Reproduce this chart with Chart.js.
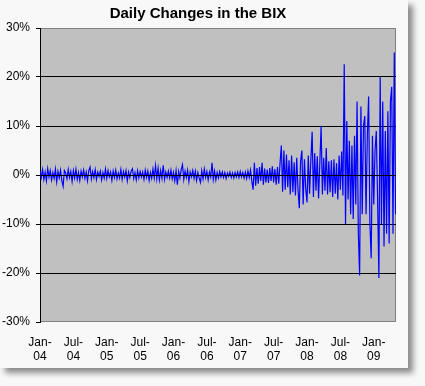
<!DOCTYPE html>
<html>
<head>
<meta charset="utf-8">
<script src="https://cdn.jsdelivr.net/npm/chart.js@4.4.1/dist/chart.umd.min.js"></script>
<style>
  body { margin: 0; background: #f8f8f8; }
  #box { position: absolute; left: 0; top: 0; width: 408px; height: 368px; background: #f8f8f8;
         box-shadow: 5px 5px 6px rgba(0,0,0,0.45); }
</style>
</head>
<body>
<div id="box"><canvas id="myChart"></canvas></div>
<script>
// weekly daily-change samples (%), Jan 2004 .. May 2009
const changes = [
  0.8,-0.5,1.1,-0.9,0.6,-1.2,1.3,-0.4,0.9,-1.0,0.5,-0.7,1.2,-1.4,0.7,-0.6,1.0,-1.1,-2.3,0.9,
  0.4,-0.8,1.1,-0.5,0.7,-1.3,0.9,-0.6,1.2,-0.9,0.5,-1.1,0.8,-0.4,1.0,-0.7,0.6,-1.2,0.9,1.6,
  -0.8,0.7,-0.5,1.1,-0.9,0.6,-0.3,0.8,-1.0,0.5,-0.6,1.2,-0.7,0.9,-0.4,0.6,-1.1,0.8,-0.5,1.0,
  -0.8,0.4,-0.6,1.1,-0.9,0.7,-0.4,0.9,-1.2,0.6,-0.5,0.8,1.3,-0.7,0.5,-1.0,0.9,-0.6,0.7,-0.4,
  0.6,-0.9,1.0,-0.5,0.8,-1.1,0.5,-0.7,1.2,-0.6,1.9,-0.8,1.4,-1.0,0.9,-0.7,2.0,-0.9,0.6,-0.5,
  0.8,-0.6,1.0,-0.8,0.5,-1.2,0.9,-2.0,0.7,-0.6,1.1,2.1,-0.9,0.8,-0.5,1.0,-1.3,0.6,-0.4,0.9,
  -0.7,0.8,-1.1,0.5,-0.6,-1.5,0.9,-0.8,1.2,-0.5,0.7,-1.0,0.6,-0.4,2.5,-0.9,0.8,-1.0,0.5,-0.6,
  0.7,-0.4,0.6,-0.5,0.5,-0.7,0.4,-0.3,0.6,-0.5,0.4,-0.6,0.5,-0.4,0.6,-0.5,0.7,-0.4,0.5,-0.6,
  0.6,-0.7,0.8,-0.5,1.0,-1.2,-3.0,2.5,-2.2,1.4,-1.8,1.6,-1.2,2.5,-2.0,1.3,-1.5,1.1,-1.6,1.4,
  -1.2,1.8,-1.5,1.2,-2.0,1.6,-1.8,2.4,6.0,-3.4,5.0,-3.0,4.2,-2.5,3.0,-4.0,4.0,-3.5,2.6,-4.2,
  3.5,-3.0,-6.8,2.8,5.0,-6.0,3.2,-2.8,-5.6,4.0,-3.8,3.0,8.8,-4.5,4.5,-3.2,3.8,-4.8,2.5,10.0,
  -4.0,3.5,-3.2,5.5,-4.0,2.8,-3.5,3.0,-4.5,3.2,-3.8,2.4,-5.0,4.0,-3.0,4.8,-4.2,22.6,-10.0,11.0,
  -5.0,7.0,-8.0,6.0,-9.0,8.0,-6.0,15.0,-12.0,-20.5,14.0,-8.0,10.0,12.0,-8.0,8.0,16.0,-10.0,-17.0,8.0,
  -6.0,5.0,9.0,-5.0,-21.0,20.0,-10.0,15.0,-14.6,9.0,-12.0,13.0,-14.0,15.0,18.0,-12.0,25.0,-8.0
];
const tickMonths = ['Jan', 'Jul', 'Jan', 'Jul', 'Jan', 'Jul', 'Jan', 'Jul', 'Jan', 'Jul', 'Jan'];
const tickYears = ['04', '04', '05', '05', '06', '06', '07', '07', '08', '08', '09'];

// x in months since Jan 2004
const points = changes.map((v, i) => ({ x: i * 12 / 52, y: v }));

const plotBg = {
  id: 'plotBg',
  beforeDraw(chart) {
    const { ctx, chartArea: a } = chart;
    ctx.save();
    ctx.fillStyle = '#c0c0c0';
    ctx.fillRect(a.left, a.top, a.width, a.height);
    ctx.strokeStyle = '#808080';
    ctx.lineWidth = 1;
    ctx.strokeRect(a.left + 0.5, a.top + 0.5, a.width - 1, a.height - 1);
    ctx.restore();
  },
  afterDatasetsDraw(chart) {
    const { ctx, chartArea: a, scales } = chart;
    const y0 = Math.round(scales.y.getPixelForValue(0)) + 0.5;
    ctx.save();
    ctx.strokeStyle = '#000';
    ctx.lineWidth = 1;
    ctx.beginPath();
    ctx.moveTo(a.left, y0);
    ctx.lineTo(a.right, y0);
    ctx.stroke();
    ctx.restore();
  }
};

Chart.defaults.font.family = '"Liberation Sans", Arial, sans-serif';
Chart.defaults.color = '#000';

new Chart(document.getElementById('myChart'), {
  type: 'line',
  data: {
    datasets: [{
      data: points,
      borderColor: '#0000ff',
      borderWidth: 1.2,
      pointRadius: 0,
      tension: 0
    }]
  },
  options: {
    animation: false,
    responsive: true,
    maintainAspectRatio: false,
    layout: { padding: { left: 0, right: 12, top: 0, bottom: 0 } },
    plugins: {
      legend: { display: false },
      tooltip: { enabled: false },
      title: {
        display: true,
        text: 'Daily Changes in the BIX',
        font: { size: 15, weight: 'bold' },
        color: '#000',
        padding: { top: 5, bottom: 5 }
      }
    },
    scales: {
      x: {
        type: 'linear',
        min: 0,
        max: 64,
        afterFit: s => { s.height = 46; },
        afterBuildTicks: s => { s.ticks = tickMonths.map((m, i) => ({ value: i * 6 })); },
        grid: { display: false, drawTicks: false },
        border: { display: false },
        ticks: {
          padding: 13,
          maxRotation: 0,
          autoSkip: false,
          font: { size: 12 },
          callback: (v, i) => [tickMonths[i] + '-', tickYears[i]]
        }
      },
      y: {
        min: -30,
        max: 30,
        afterFit: s => { s.width = 40; },
        border: { display: true, color: '#000' },
        grid: {
          color: c => (c.tick.value === 30 || c.tick.value === -30) ? 'rgba(0,0,0,0)' : '#000',
          tickColor: '#000',
          tickLength: 4
        },
        ticks: {
          stepSize: 10,
          padding: 6,
          font: { size: 12 },
          callback: v => v + '%'
        }
      }
    }
  },
  plugins: [plotBg]
});
</script>
</body>
</html>
